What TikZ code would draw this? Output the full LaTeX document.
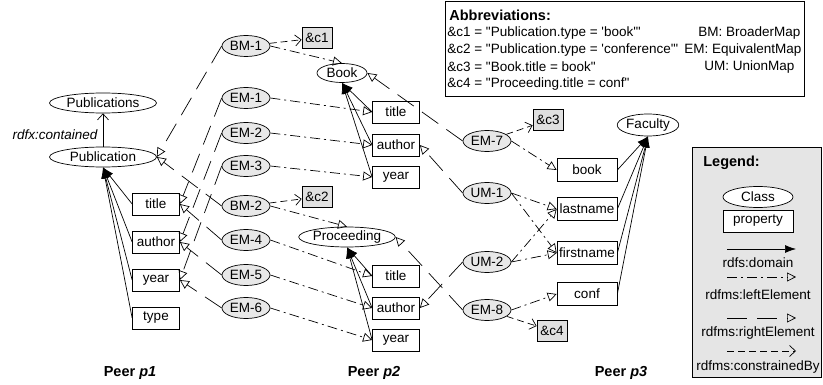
\documentclass[tikz,border=0pt]{standalone}
\usepackage{fontspec}
\setmainfont{Liberation Sans}
\usetikzlibrary{shapes.geometric,arrows.meta}
\definecolor{mapfill}{gray}{0.91}
\definecolor{condfill}{gray}{0.88}
\definecolor{legfill}{gray}{0.90}
\newcommand\boldfont{\fontsize{14.5}{17}\selectfont\bfseries}
\newcommand\dq{\textquotedbl}
\newcommand\sq{\textquotesingle}

\tikzset{
  cls/.style={ellipse,draw,fill=white,inner sep=0pt,minimum height=20pt},
  prop/.style={rectangle,draw,fill=white,inner sep=0pt,minimum width=47pt,minimum height=22pt},
  map/.style={ellipse,draw,fill=mapfill,inner sep=0pt,minimum width=48pt,minimum height=21pt},
  cond/.style={rectangle,draw,fill=condfill,inner sep=0pt,minimum width=30pt,minimum height=21pt},
  txt/.style={inner sep=0pt},
  domarrow/.style={-{Latex[length=11pt,width=8pt]}},
  leftelem/.style={dash pattern=on 10pt off 4pt on 2pt off 4pt,-{Triangle[open,length=9pt,width=9pt]}},
  rightelem/.style={dash pattern=on 20pt off 10pt,-{Triangle[open,length=9pt,width=9pt]}},
  constr/.style={dash pattern=on 7pt off 4pt,-{Straight Barb[length=6pt,width=11pt]}}
}

\begin{document}
\begin{tikzpicture}[x=1pt,y=-1pt,line width=0.7pt,
    every node/.style={font=\fontsize{13.5}{16}\selectfont}]
  \useasboundingbox (0,0) rectangle (823,385);

  % peer p1
  \node[cls,minimum width=107pt] (pubs) at (103,103) {Publications};
  \node[cls,minimum width=107pt] (pub) at (103,157) {Publication};
  \node[txt,font=\fontsize{13.5}{16}\selectfont\itshape] (contained) at (55,135) {rdfx:contained};
  \draw[-{Straight Barb[length=6pt,width=11pt]}] (pub) -- (pubs);
  \node[prop] (title1) at (156,204) {title};
  \node[prop] (author1) at (156,242) {author};
  \node[prop] (year1) at (156,280) {year};
  \node[prop] (type1) at (156,318) {type};
  \foreach \p in {title1,author1,year1,type1}
    \draw[domarrow] (\p.west) -- (pub.south);
  \node[txt,font=\boldfont] (peer1) at (130,373) {Peer \textit{p1}};

  % peer p2
  \node[cls,minimum width=50pt,minimum height=19pt] (book) at (342,73) {Book};
  \node[prop] (title2) at (396,112) {title};
  \node[prop] (author2) at (396,145) {author};
  \node[prop] (year2) at (396,177) {year};
  \foreach \p in {title2,author2,year2}
    \draw[domarrow] (\p.west) -- (book.south);
  \node[cls,minimum width=92pt] (proc) at (347,237) {Proceeding};
  \node[prop] (title3) at (396,276) {title};
  \node[prop] (author3) at (396,308) {author};
  \node[prop] (year3) at (396,340) {year};
  \foreach \p in {title3,author3,year3}
    \draw[domarrow] (\p.west) -- (proc.south);
  \node[txt,font=\boldfont] (peer2) at (374,373) {Peer \textit{p2}};

  % peer p3
  \node[cls,minimum width=58pt,minimum height=22pt] (faculty) at (648,125) {Faculty};
  \node[prop,minimum width=60pt,minimum height=23pt] (book3) at (587,170) {book};
  \node[prop,minimum width=60pt,minimum height=23pt] (lastname) at (587,209) {lastname};
  \node[prop,minimum width=60pt,minimum height=23pt] (firstname) at (587,253) {firstname};
  \node[prop,minimum width=60pt,minimum height=23pt] (conf) at (587,294) {conf};
  \foreach \p in {book3,lastname,firstname,conf}
    \draw[domarrow] (\p.east) -- (faculty.south);
  \node[txt,font=\boldfont] (peer3) at (621,373) {Peer \textit{p3}};

  % mappings p1 - p2
  \node[map] (bm1) at (246,46) {BM-1};
  \node[map] (em1) at (246,98) {EM-1};
  \node[map] (em2) at (246,133) {EM-2};
  \node[map] (em3) at (246,166) {EM-3};
  \node[map] (bm2) at (246,206) {BM-2};
  \node[map] (em4) at (246,240) {EM-4};
  \node[map] (em5) at (246,275) {EM-5};
  \node[map] (em6) at (246,308) {EM-6};
  \node[cond] (c1) at (317,38) {\&c1};
  \node[cond] (c2) at (317,197) {\&c2};

  \draw[constr] (bm1) -- (c1);
  \draw[leftelem] (bm1.east) -- (book.north);
  \draw[rightelem] (bm1.west) -- (pub.east);
  \draw[constr] (bm2) -- (c2);
  \draw[leftelem] (bm2.east) -- (proc.north);
  \draw[rightelem] (bm2.west) -- (pub.east);
  \foreach \m/\l/\r in {em1/title2/title1,em2/author2/author1,em3/year2/year1,
                        em4/title3/title1,em5/author3/author1,em6/year3/year1}{
    \draw[leftelem] (\m.east) -- (\l.west);
    \draw[rightelem] (\m.west) -- (\r.east);
  }

  % mappings p2 - p3
  \node[map] (em7) at (487,141) {EM-7};
  \node[map] (um1) at (487,193) {UM-1};
  \node[map] (um2) at (487,262) {UM-2};
  \node[map] (em8) at (487,310) {EM-8};
  \node[cond] (c3) at (548,120) {\&c3};
  \node[cond] (c4) at (552,331) {\&c4};

  \draw[constr] (em7) -- (c3);
  \draw[leftelem] (em7.east) -- (book3.west);
  \draw[rightelem] (em7.west) -- (book.east);
  \draw[leftelem] (um1.east) -- (lastname.west);
  \draw[leftelem] (um1.east) -- (firstname.west);
  \draw[rightelem] (um1.west) -- (author2.east);
  \draw[leftelem] (um2.east) -- (lastname.west);
  \draw[leftelem] (um2.east) -- (firstname.west);
  \draw[rightelem] (um2.west) -- (author3.east);
  \draw[constr] (em8) -- (c4);
  \draw[leftelem] (em8.east) -- (conf.west);
  \draw[rightelem] (em8.west) -- (proc.east);

  % abbreviations
  \draw (445,1) rectangle (804,96);
  \node[txt,anchor=west,font=\boldfont] (abbrhead) at (449,15) {Abbreviations:};
  \node[txt,anchor=west] (abbr1) at (447,33) {\&c1 = \dq Publication.type = \sq book\sq\dq};
  \node[txt,anchor=west] (abbr2) at (447,50) {\&c2 = \dq Publication.type = \sq conference\sq\dq};
  \node[txt,anchor=west] (abbr3) at (447,67) {\&c3 = \dq Book.title = book\dq};
  \node[txt,anchor=west] (abbr4) at (447,84) {\&c4 = \dq Proceeding.title = conf\dq};
  \node[txt,anchor=west] (bmtxt) at (698,33) {BM: BroaderMap};
  \node[txt,anchor=west] (emtxt) at (684,50) {EM: EquivalentMap};
  \node[txt,anchor=west] (umtxt) at (704,67) {UM: UnionMap};

  % legend
  \draw[fill=legfill] (692,147) rectangle (821,377);
  \node[txt,anchor=west,font=\boldfont] (leghead) at (703,163) {Legend:};
  \node[cls,minimum width=70pt,minimum height=21pt] (legcls) at (758,197) {Class};
  \node[prop,minimum width=70pt] (legprop) at (758,221) {property};
  \coordinate (ld1) at (727,249); \coordinate (ld2) at (796,249);
  \coordinate (ll1) at (727,277); \coordinate (ll2) at (796,277);
  \coordinate (lr1) at (727,318); \coordinate (lr2) at (796,318);
  \coordinate (lc1) at (727,351); \coordinate (lc2) at (796,351);
  \draw[domarrow] (ld1) -- (ld2);
  \draw[leftelem] (ll1) -- (ll2);
  \draw[rightelem] (lr1) -- (lr2);
  \draw[constr] (lc1) -- (lc2);
  \node[txt] (domlbl) at (758,263) {rdfs:domain};
  \node[txt] (leftlbl) at (758,295) {rdfms:leftElement};
  \node[txt] (rightlbl) at (758,333) {rdfms:rightElement};
  \node[txt] (constrlbl) at (758,367) {rdfms:constrainedBy};
\end{tikzpicture}
\end{document}
